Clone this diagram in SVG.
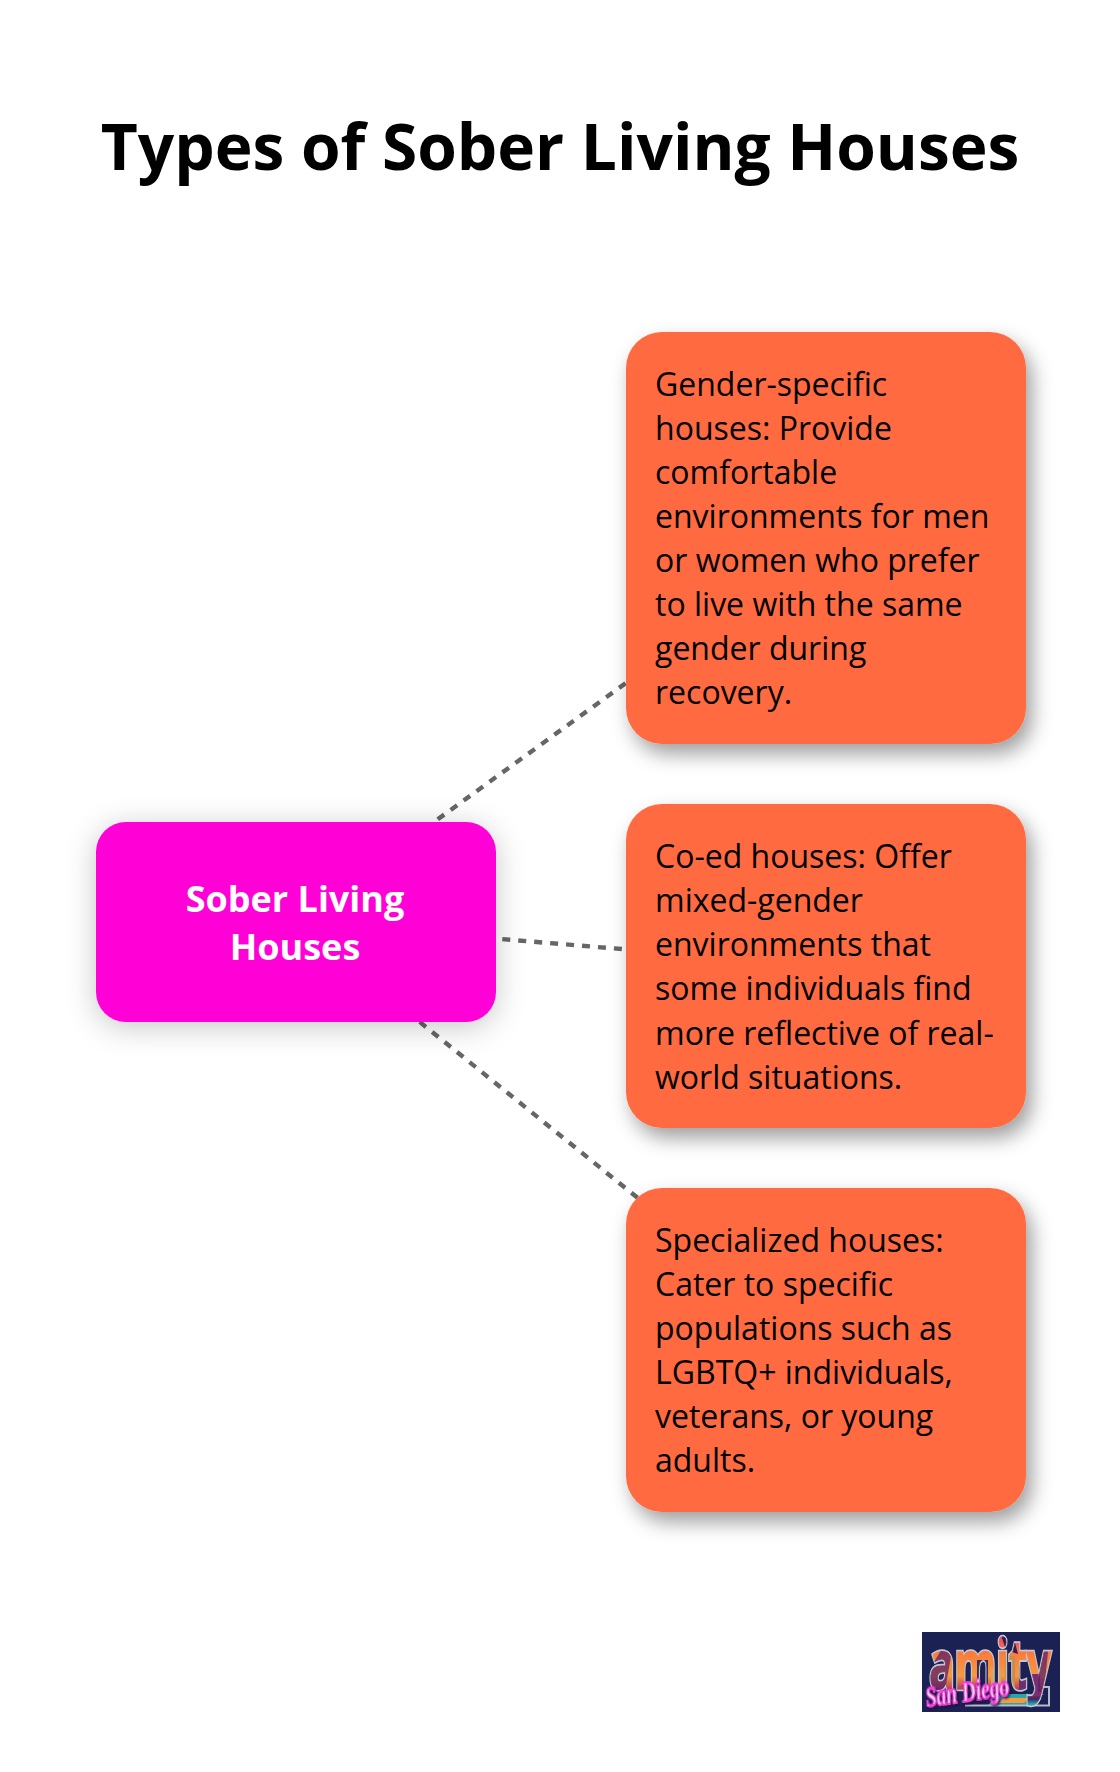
<svg xmlns="http://www.w3.org/2000/svg" width="1120" height="1772" viewBox="0 0 1120 1772">
<style>
.t{font-family:"Open Sans","Liberation Sans",sans-serif;fill:#000}
.title{font-size:64px;font-weight:700;text-anchor:middle}
.body{font-size:32px}
.head{font-size:36px;font-weight:700;fill:#fff;text-anchor:middle}
.orange{fill:#ff6b40;filter:url(#sh2)}
.link{stroke:#666;stroke-width:4.4;stroke-dasharray:8 8;stroke-dashoffset:1;fill:none}
.word{font-family:"Open Sans","Liberation Sans",sans-serif;font-weight:700;font-size:43px}
</style>
<defs>
<filter id="sh1" x="-30%" y="-50%" width="160%" height="200%"><feDropShadow dx="0" dy="5" stdDeviation="15" flood-color="#000" flood-opacity=".22"/></filter>
<filter id="sh2" x="-20%" y="-20%" width="140%" height="140%"><feDropShadow dx="6" dy="10" stdDeviation="10" flood-color="#000" flood-opacity=".38"/></filter>
<filter id="glow" x="-20%" y="-40%" width="140%" height="180%"><feDropShadow dx="1" dy="2" stdDeviation="1" flood-color="#1b1030" flood-opacity=".9"/></filter>
<linearGradient id="sky" x1="0" y1="0" x2="0" y2="1"><stop offset="0" stop-color="#f0356f"/><stop offset=".28" stop-color="#fb7d3c"/><stop offset=".55" stop-color="#f59a3e"/><stop offset=".75" stop-color="#a8285f"/><stop offset=".84" stop-color="#3a2a66"/><stop offset=".9" stop-color="#2aa5a8"/><stop offset="1" stop-color="#2aa5a8"/></linearGradient>
<pattern id="city" patternUnits="userSpaceOnUse" x="0" y="0" width="138" height="80" patternTransform="scale(1 .625) translate(-7 -57)">
<rect width="138" height="80" fill="url(#sky)"/>
<rect x="55" y="28" width="11" height="36" fill="#3b2a5c"/><rect x="69" y="36" width="10" height="28" fill="#d9a35a"/><rect x="83" y="24" width="10" height="40" fill="#c98a4a"/><rect x="97" y="34" width="9" height="30" fill="#6b2f6e"/><rect x="110" y="42" width="8" height="22" fill="#7b2d70"/>
<path d="M6 40 24 10 32 6 28 30 22 64H8z" fill="#5a1f66" opacity=".75"/><path d="M78 0 86 8 90 0 96 22 84 18z" fill="#3a1b4f"/><path d="M118 0 126 20 122 60 116 60z" fill="#5a1f66" opacity=".75"/>
</pattern>
</defs>
<rect width="1120" height="1772" fill="#fff"/>
<text class="t title" x="560" y="170">Types of Sober Living Houses</text>
<g id="connectors">
<line class="link" x1="296" y1="922" x2="826" y2="538"/>
<line class="link" x1="296" y1="922" x2="826" y2="966"/>
<line class="link" x1="296" y1="922" x2="826" y2="1350"/>
</g>
<g id="node-root">
<rect x="96" y="822" width="400" height="200" rx="30" fill="#ff00d6" filter="url(#sh1)"/>
<text class="t head"><tspan x="295" y="912">Sober Living</tspan><tspan x="295" y="960">Houses</tspan></text>
</g>
<g id="node-gender">
<rect class="orange" x="626" y="332" width="400" height="412" rx="36"/>
<text class="t body"><tspan x="655" y="396">Gender-specific</tspan><tspan x="655" y="440">houses: Provide</tspan><tspan x="655" y="484">comfortable</tspan><tspan x="655" y="528">environments for men</tspan><tspan x="655" y="572">or women who prefer</tspan><tspan x="655" y="616">to live with the same</tspan><tspan x="655" y="660">gender during</tspan><tspan x="655" y="704">recovery.</tspan></text>
</g>
<g id="node-coed">
<rect class="orange" x="626" y="804" width="400" height="324" rx="36"/>
<text class="t body"><tspan x="655" y="868">Co-ed houses: Offer</tspan><tspan x="655" y="912">mixed-gender</tspan><tspan x="655" y="956">environments that</tspan><tspan x="655" y="1000">some individuals find</tspan><tspan x="655" y="1045">more reflective of real-</tspan><tspan x="655" y="1089">world situations.</tspan></text>
</g>
<g id="node-specialized">
<rect class="orange" x="626" y="1188" width="400" height="324" rx="36"/>
<text class="t body"><tspan x="655" y="1252">Specialized houses:</tspan><tspan x="655" y="1296">Cater to specific</tspan><tspan x="655" y="1340">populations such as</tspan><tspan x="655" y="1384">LGBTQ+ individuals,</tspan><tspan x="655" y="1428">veterans, or young</tspan><tspan x="655" y="1472">adults.</tspan></text>
</g>
<g id="logo">
<rect x="922" y="1632" width="138" height="80" fill="#1b2152"/>
<path d="M1000 1694h44l-8 5 6 0-10 6h-44z" fill="#2aa5a8"/>
<path d="M1004 1698h26l-6 5h-26z" fill="#f59a3e"/>
<path d="M965 1705.500H1049V1687H1038" fill="none" stroke="#b8bac8" stroke-width="2"/>
<g transform="translate(929 1689) scale(1 1.6)">
<text class="word" fill="#c4c6d2" stroke="#c4c6d2" stroke-width="2.800" textLength="122" lengthAdjust="spacing">amity</text>
<text class="word" fill="url(#city)" stroke="url(#city)" stroke-width=".6" textLength="122" lengthAdjust="spacing">amity</text>
</g>
<text transform="translate(927 1707) rotate(-8)" font-family="'Liberation Serif','DejaVu Serif',serif" font-style="italic" font-weight="700" font-size="30" fill="#ffe6fb" stroke="#f23fdc" stroke-width="1.800" textLength="84" lengthAdjust="spacingAndGlyphs" filter="url(#glow)">San Diego</text>
</g>
</svg>
